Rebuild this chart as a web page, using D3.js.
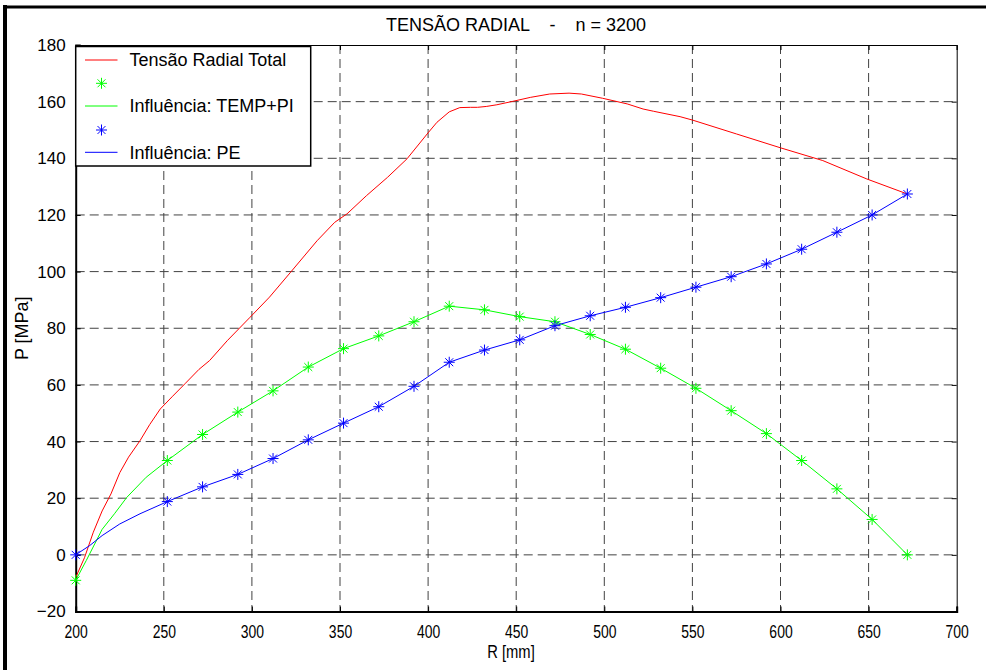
<!DOCTYPE html>
<html lang="pt">
<head>
<meta charset="UTF-8">
<title>Tensão Radial</title>
<script src="https://d3js.org/d3.v7.min.js"></script>
<style>
  body { margin: 0; background: #fff; }
  text { font-family: "Liberation Sans", Arial, sans-serif; font-size: 18px; fill: #000; }
</style>
</head>
<body>
<svg id="chart" width="986" height="670"></svg>
<script>
    // marker positions (R, mm) shared by the two marked series
    var markerR = [200, 252, 272, 292, 312, 332, 352, 372, 392, 412, 432, 452, 472, 492, 512, 532, 552, 572, 592, 612, 632, 652, 672];
    var greenP  = [-9, 33.3, 42.5, 50.4, 57.9, 66.3, 72.8, 77.3, 82.3, 87.8, 86.5, 84.1, 82.3, 77.8, 72.6, 65.9, 58.8, 50.9, 42.8, 33.3, 23.3, 12.5, 0];
    var blueP   = [0, 18.8, 24.0, 28.4, 34.0, 40.6, 46.5, 52.3, 59.5, 68.0, 72.3, 75.9, 80.9, 84.4, 87.4, 90.8, 94.5, 98.2, 102.7, 107.9, 113.9, 120, 127.4];

    // extra line points read between R=200 and R=252
    var greenStartR = [206, 215, 222, 229, 240];
    var greenStartP = [-2, 9, 14.5, 20.3, 27.4];
    var blueStartR  = [208, 215, 225, 236.5];
    var blueStartP  = [3.3, 6.8, 10.9, 14.5];

    // total radial stress (line only)
    var redR = [200, 205, 210, 215, 220, 225, 230, 236.5, 242, 248, 255, 262, 270, 276, 286, 299, 310, 322, 337, 347, 354, 365, 377, 388, 400, 405, 412, 418, 424, 428, 433, 439, 448, 458, 469, 480, 487, 499, 513, 522, 528, 543, 550, 575, 600, 624, 649, 672];
    var redP = [-8, -1, 8, 15.5, 21.5, 29, 34.5, 40.3, 46, 51.5, 56, 60.4, 65.5, 68.6, 75.6, 83.9, 91, 99.8, 110.9, 117.4, 120.4, 126.8, 133.3, 139.8, 149, 152.7, 156.4, 157.9, 158, 158, 158.3, 158.9, 160.1, 161.5, 162.7, 163, 162.7, 161.2, 159.2, 157.4, 156.6, 154.7, 153.5, 148.6, 143.7, 139.2, 132.7, 127.4];

    var xTicks = [200, 250, 300, 350, 400, 450, 500, 550, 600, 650, 700];
    var yTicks = [-20, 0, 20, 40, 60, 80, 100, 120, 140, 160, 180];
    var legendLabels = ["Tensão Radial Total", "", "Influência: TEMP+PI", "", "Influência: PE"];

    var box = {left: 75.7, right: 956.7, top: 45, bottom: 611.5};

    var svg = d3.select("#chart");

    var x = d3.scaleLinear().domain([200, 700]).range([box.left, box.right]);
    var y = d3.scaleLinear().domain([-20, 180]).range([box.bottom, box.top]);

    // figure frame (left and top edges)
    svg.append("line").attr("x1", 5).attr("x2", 5).attr("y1", 5).attr("y2", 670)
        .attr("stroke", "#000").attr("stroke-width", 4);
    svg.append("line").attr("x1", 3).attr("x2", 986).attr("y1", 7).attr("y2", 7)
        .attr("stroke", "#000").attr("stroke-width", 3);

    //grid
    var grid = svg.append("g").attr("stroke", "#222").attr("stroke-width", 1)
        .attr("stroke-dasharray", "9,5").attr("opacity", 0.85);
    grid.selectAll(".gx").data(xTicks.slice(1, -1)).enter().append("line")
        .attr("x1", d => x(d)).attr("x2", d => x(d))
        .attr("y1", box.top).attr("y2", box.bottom);
    grid.selectAll(".gy").data(yTicks.slice(1, -1)).enter().append("line")
        .attr("x1", box.left).attr("x2", box.right)
        .attr("y1", d => y(d)).attr("y2", d => y(d));

    //axes
    var xAxis = svg.append("g").attr("transform", "translate(0," + box.bottom + ")")
        .call(d3.axisBottom(x).tickValues(xTicks).tickSize(-5).tickPadding(0));
    var yAxis = svg.append("g").attr("transform", "translate(" + box.left + ",0)")
        .call(d3.axisLeft(y).tickValues(yTicks).tickSize(-5).tickPadding(10));
    svg.append("g").attr("transform", "translate(0," + box.top + ")")
        .call(d3.axisTop(x).tickValues(xTicks).tickSize(-5).tickFormat(""));
    svg.append("g").attr("transform", "translate(" + box.right + ",0)")
        .call(d3.axisRight(y).tickValues(yTicks).tickSize(-5).tickFormat(""));
    svg.selectAll(".domain").attr("stroke", "#000");
    svg.selectAll(".tick line").attr("stroke", "#000");
    svg.selectAll(".tick text").style("font-size", "17px").attr("fill", "#000");
    // x tick labels are narrow in the original
    xAxis.selectAll(".tick text").attr("y", 0).attr("dy", 0)
        .attr("transform", "translate(0,26) scale(0.82,1.08)");
    xAxis.select(".domain").attr("stroke-width", 2);
    yAxis.select(".domain").attr("stroke-width", 2);

    //titles
    svg.append("text").attr("x", 516).attr("y", 31).attr("text-anchor", "middle")
        .style("white-space", "pre").text("TENSÃO RADIAL    -    n = 3200");
    svg.append("text").attr("transform", "translate(511,658) scale(0.82,1.05)")
        .attr("text-anchor", "middle").text("R [mm]");
    svg.append("text").attr("transform", "translate(28," + y(80) + ") rotate(-90)")
        .attr("text-anchor", "middle").text("P [MPa]");

    var line = d3.line().x(d => x(d[0])).y(d => y(d[1]));
    function zipPts(a, b) { return a.map((v, i) => [v, b[i]]); }
    function starPath(s) {
        var d = s * 0.72;
        return "M" + (-s) + ",0H" + s + "M0," + (-s) + "V" + s +
            "M" + (-d) + "," + (-d) + "L" + d + "," + d +
            "M" + (-d) + "," + d + "L" + d + "," + (-d);
    }

    var greenLine = zipPts([200].concat(greenStartR, markerR.slice(1)), [greenP[0]].concat(greenStartP, greenP.slice(1)));
    var blueLine = zipPts([200].concat(blueStartR, markerR.slice(1)), [blueP[0]].concat(blueStartP, blueP.slice(1)));

    svg.append("path").datum(zipPts(redR, redP)).attr("d", line)
        .attr("fill", "none").attr("stroke", "#ff0000").attr("stroke-width", 1);
    svg.append("path").datum(greenLine).attr("d", line)
        .attr("fill", "none").attr("stroke", "#00ff00").attr("stroke-width", 1);
    svg.append("path").datum(blueLine).attr("d", line)
        .attr("fill", "none").attr("stroke", "#0000ff").attr("stroke-width", 1);

    svg.append("g").selectAll("path").data(zipPts(markerR, greenP)).enter().append("path")
        .attr("transform", d => "translate(" + x(d[0]) + "," + y(d[1]) + ")")
        .attr("d", starPath(5.5)).attr("stroke", "#00ff00").attr("fill", "none");
    svg.append("g").selectAll("path").data(zipPts(markerR, blueP)).enter().append("path")
        .attr("transform", d => "translate(" + x(d[0]) + "," + y(d[1]) + ")")
        .attr("d", starPath(5.5)).attr("stroke", "#0000ff").attr("fill", "none");

    //legend
    var legend = svg.append("g");
    legend.append("rect").attr("x", 75.7).attr("y", 46.5).attr("width", 235).attr("height", 119.5)
        .attr("fill", "#fff").attr("stroke", "#000").attr("stroke-width", 1.5);
    var rowY = [60, 83.3, 106, 130, 152.3];
    var rowColor = ["#ff0000", "#00ff00", "#00ff00", "#0000ff", "#0000ff"];
    var rowMark = [false, true, false, true, false];
    legendLabels.forEach(function(lab, i) {
        if (rowMark[i]) {
            legend.append("path").attr("transform", "translate(101.5," + rowY[i] + ")")
                .attr("d", starPath(5.5)).attr("stroke", rowColor[i]).attr("fill", "none");
        } else {
            legend.append("line").attr("x1", 85).attr("x2", 117.5)
                .attr("y1", rowY[i]).attr("y2", rowY[i]).attr("stroke", rowColor[i]);
        }
        legend.append("text").attr("x", 129.5).attr("y", rowY[i]).attr("dy", "0.35em").text(lab);
    });
</script>
</body>
</html>
